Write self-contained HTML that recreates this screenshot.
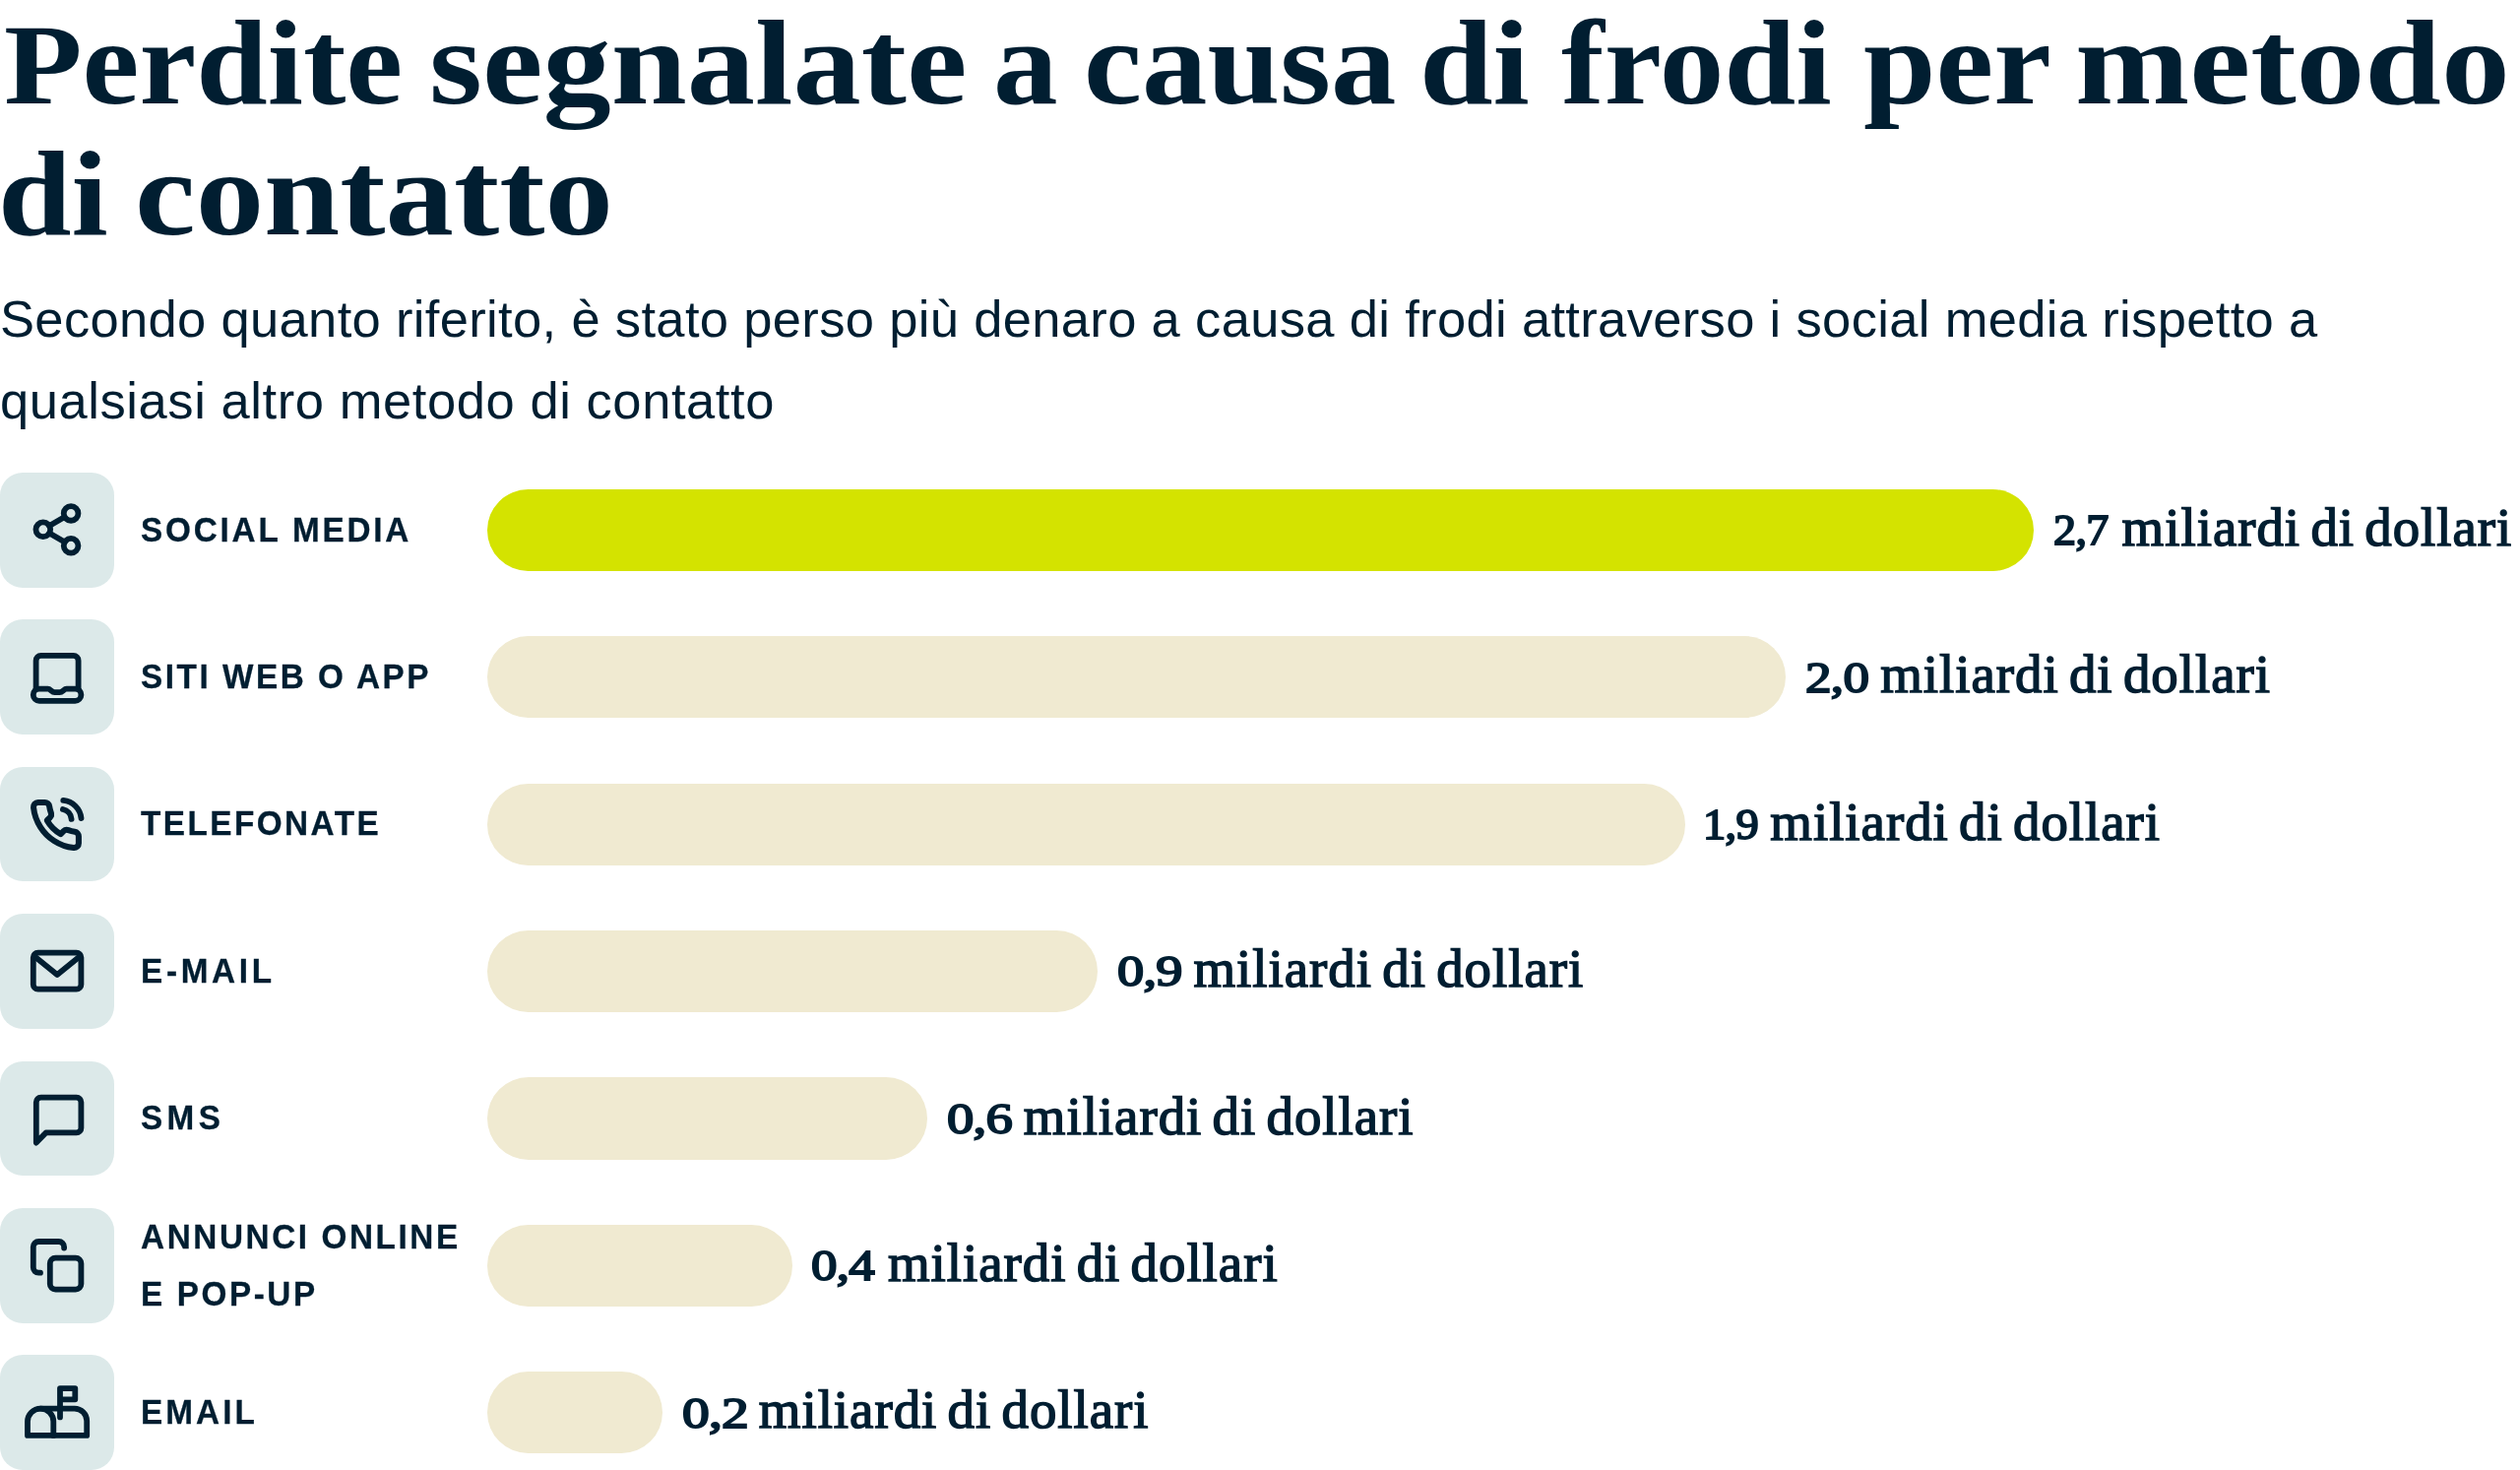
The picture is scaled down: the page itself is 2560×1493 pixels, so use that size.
<!DOCTYPE html>
<html lang="it">
<head>
<meta charset="utf-8">
<title>Perdite segnalate a causa di frodi per metodo di contatto</title>
<style>
  html, body { margin: 0; padding: 0; background: #ffffff; }
  body { width: 2560px; height: 1493px; position: relative; overflow: hidden;
         font-family: "Liberation Sans", sans-serif; color: #011e31; }
  #stage { position: absolute; left: 0; top: 0; width: 2560px; height: 1493px; will-change: transform; }
  .abs { position: absolute; white-space: nowrap; transform-origin: 0 0; }
  .title { font-family: "Liberation Serif", serif; font-weight: bold; font-size: 123px; line-height: 133px; }
  .title .cap { display: inline-block; transform: scaleY(0.94); transform-origin: 0 108px; }
  .sub { font-family: "Liberation Sans", sans-serif; font-size: 52.5px; line-height: 83px; }
  .box { position: absolute; left: 0; width: 116px; height: 116.5px; border-radius: 23.2px; background: #dce9e9; }
  .bar { position: absolute; left: 494.9px; height: 83.3px; border-radius: 42px; background: #f0ead1; }
  .bar.hi { background: #d4e300; }
  .lab { font-family: "Liberation Sans", sans-serif; font-weight: bold; font-size: 35.8px;
         letter-spacing: 2.85px; line-height: 40px; -webkit-text-stroke: 0.3px #011e31; }
  .val { font-family: "Liberation Serif", serif; font-size: 54.8px; line-height: 60px; letter-spacing: 1.0px;
          word-spacing: -4.4px; -webkit-text-stroke: 1.5px #011e31; }
  .val.n { font-size: 45px; letter-spacing: -0.6px; word-spacing: 0; -webkit-text-stroke: 1.9px #011e31; }
  svg.ic { position: absolute; left: 0; width: 116px; height: 116px; overflow: visible;
           fill: none; stroke: #011e31; stroke-width: 5.8; stroke-linecap: round; stroke-linejoin: round; }
</style>
</head>
<body>
<div id="stage">

<!-- title line 1 -->
<div class="abs title" style="left:4.2px;top:-2.6px;transform:scaleX(1.0592);"><span class="cap">P</span>erdite</div>
<div class="abs title" style="left:436.1px;top:-2.6px;transform:scaleX(1.1264);">segnalate</div>
<div class="abs title" style="left:1008.5px;top:-2.6px;transform:scaleX(1.0661);">a</div>
<div class="abs title" style="left:1100.5px;top:-2.6px;transform:scaleX(1.0802);">causa</div>
<div class="abs title" style="left:1442.1px;top:-2.6px;transform:scaleX(1.0906);">di</div>
<div class="abs title" style="left:1586.2px;top:-2.6px;transform:scaleX(1.0678);">frodi</div>
<div class="abs title" style="left:1892.5px;top:-2.6px;transform:scaleX(1.0746);">per</div>
<div class="abs title" style="left:2107.6px;top:-2.6px;transform:scaleX(1.1343);">metodo</div>
<!-- title line 2 -->
<div class="abs title" style="left:-2.0px;top:130.4px;transform:scaleX(1.0896);">di</div>
<div class="abs title" style="left:137.4px;top:130.4px;transform:scaleX(1.1289);">contatto</div>

<div class="abs sub" id="s1" style="left:0px;top:282.3px;letter-spacing:0.335px;transform:scaleX(1.0);">Secondo quanto riferito, è stato perso più denaro a causa di frodi attraverso i social media rispetto a</div>
<div class="abs sub" id="s2" style="left:0px;top:365.3px;letter-spacing:0.57px;transform:scaleX(1.0);">qualsiasi altro metodo di contatto</div>

<!-- row 1 -->
<div class="box" style="top:480.0px;"></div>
<svg class="ic" style="top:480.0px;" viewBox="0 0 116 116"><circle cx="72.1" cy="41.4" r="7.35"/><circle cx="43.8" cy="57.8" r="7.35"/><circle cx="72.1" cy="74.3" r="7.35"/><path d="M50.2 54.1 L65.7 45.1 M50.2 61.5 L65.7 70.6"/></svg>
<div class="abs lab" id="l0" style="left:143px;top:517.5px;letter-spacing:3.0px;transform:scaleX(0.93);">SOCIAL MEDIA</div>
<div class="bar hi" style="top:496.7px;width:1571.4px;"></div>
<div class="abs val n" id="n0" style="left:2085.9px;top:508.2px;transform:scaleX(1.0241);">2,7</div>
<div class="abs val" id="v0" style="left:2155.6px;top:506.0px;">miliardi di dollari</div>

<!-- row 2 -->
<div class="box" style="top:629.4px;"></div>
<svg class="ic" style="top:629.4px;" viewBox="0 0 116 116"><path d="M36.6 70.6 V41.9 A5 5 0 0 1 41.6 36.9 H74.6 A5 5 0 0 1 79.6 41.9 V70.6"/><path d="M39.9 70.6 H48.6 C51.4 70.6 52.4 74.2 55.6 74.2 H60.6 C63.8 74.2 64.8 70.6 67.6 70.6 H76.3 A6.1 6.1 0 0 1 76.3 82.8 H39.9 A6.1 6.1 0 0 1 39.9 70.6 Z"/></svg>
<div class="abs lab" id="l1" style="left:143px;top:666.9px;letter-spacing:2.73px;transform:scaleX(0.93);">SITI WEB O APP</div>
<div class="bar" style="top:646.1px;width:1319.2px;"></div>
<div class="abs val n" id="n1" style="left:1833.7px;top:657.6px;transform:scaleX(1.1792);">2,0</div>
<div class="abs val" id="v1" style="left:1910.2px;top:655.4px;">miliardi di dollari</div>

<!-- row 3 -->
<div class="box" style="top:778.8px;"></div>
<svg class="ic" style="top:778.8px;" viewBox="0 0 116 116"><path stroke-width="2.62" transform="matrix(2.308 0 0 2.315 29.13 31.3)" d="M22 16.92v3a2 2 0 0 1-2.18 2 19.79 19.79 0 0 1-8.63-3.07 19.5 19.5 0 0 1-6-6 19.79 19.79 0 0 1-3.07-8.67A2 2 0 0 1 4.11 2h3a2 2 0 0 1 2 1.72 12.84 12.84 0 0 0 .7 2.81 2 2 0 0 1-.45 2.11L8.09 9.91a16 16 0 0 0 6 6l1.27-1.27a2 2 0 0 1 2.11-.45 12.84 12.84 0 0 0 2.81.7A2 2 0 0 1 22 16.92z"/><path d="M64.3 33.9 A20 20 0 0 1 82.5 52.1 M63.9 43.0 A11 11 0 0 1 72.6 52.9"/></svg>
<div class="abs lab" id="l2" style="left:143px;top:816.3px;letter-spacing:2.65px;transform:scaleX(0.93);">TELEFONATE</div>
<div class="bar" style="top:795.5px;width:1217.3px;"></div>
<div class="abs val n" id="n2" style="left:1730.0px;top:807.0px;transform:scaleX(1.0314);">1,9</div>
<div class="abs val" id="v2" style="left:1798.3px;top:804.8px;">miliardi di dollari</div>

<!-- row 4 -->
<div class="box" style="top:928.2px;"></div>
<svg class="ic" style="top:928.2px;" viewBox="0 0 116 116"><rect x="33.8" y="39.7" width="48.6" height="37" rx="4.8"/><path d="M35.3 43.6 L58.1 61.9 L80.9 43.6"/></svg>
<div class="abs lab" id="l3" style="left:143px;top:965.7px;letter-spacing:3.95px;transform:scaleX(0.93);">E-MAIL</div>
<div class="bar" style="top:944.9px;width:620.6px;"></div>
<div class="abs val n" id="n3" style="left:1134.8px;top:956.4px;transform:scaleX(1.2075);">0,9</div>
<div class="abs val" id="v3" style="left:1212.5px;top:954.2px;">miliardi di dollari</div>

<!-- row 5 -->
<div class="box" style="top:1077.6px;"></div>
<svg class="ic" style="top:1077.6px;" viewBox="0 0 116 116"><path d="M36.8 82.6 V41.4 A4.7 4.7 0 0 1 41.5 36.7 H77.7 A4.7 4.7 0 0 1 82.4 41.4 V67.7 A4.7 4.7 0 0 1 77.7 72.4 H46.6 Z"/></svg>
<div class="abs lab" id="l4" style="left:143px;top:1115.1px;letter-spacing:4.7px;transform:scaleX(0.93);">SMS</div>
<div class="bar" style="top:1094.3px;width:447.2px;"></div>
<div class="abs val n" id="n4" style="left:961.5px;top:1105.8px;transform:scaleX(1.2132);">0,6</div>
<div class="abs val" id="v4" style="left:1039.8px;top:1103.6px;">miliardi di dollari</div>

<!-- row 6 -->
<div class="box" style="top:1227.0px;"></div>
<svg class="ic" style="top:1227.0px;" viewBox="0 0 116 116"><rect x="50.8" y="50.6" width="31.6" height="32" rx="5.6"/><path d="M65.1 40.6 V39.4 A5.4 5.4 0 0 0 59.7 34.0 H39.2 A5.4 5.4 0 0 0 33.8 39.4 V60.3 A5.4 5.4 0 0 0 39.2 65.7 H41.0"/></svg>
<div class="abs lab" id="l5" style="left:143px;top:1235.7px;letter-spacing:2.78px;transform:scaleX(0.93);">ANNUNCI ONLINE</div>
<div class="abs lab" id="l5b" style="left:143px;top:1293.8px;letter-spacing:2.78px;transform:scaleX(0.93);">E POP-UP</div>
<div class="bar" style="top:1243.7px;width:309.9px;"></div>
<div class="abs val n" id="n5" style="left:824.2px;top:1255.2px;transform:scaleX(1.1759);">0,4</div>
<div class="abs val" id="v5" style="left:901.9px;top:1253.0px;">miliardi di dollari</div>

<!-- row 7 -->
<div class="box" style="top:1376.4px;"></div>
<svg class="ic" style="top:1376.4px;" viewBox="0 0 116 116"><path d="M28 81.9 V67.7 A13.15 13.15 0 0 1 41.15 54.6 H75.7 A12.5 12.5 0 0 1 88.2 67.1 V81.9 Z"/><path d="M41.15 54.6 A13.15 13.15 0 0 1 54.3 67.7 V81.9"/><path d="M61 63.4 V34.1 H76.3 V45.3 H61"/></svg>
<div class="abs lab" id="l6" style="left:143px;top:1413.9px;letter-spacing:3.3px;transform:scaleX(0.93);">EMAIL</div>
<div class="bar" style="top:1393.1px;width:178.2px;"></div>
<div class="abs val n" id="n6" style="left:692.5px;top:1404.6px;transform:scaleX(1.2327);">0,2</div>
<div class="abs val" id="v6" style="left:770.8px;top:1402.4px;">miliardi di dollari</div>

</div>
</body>
</html>
